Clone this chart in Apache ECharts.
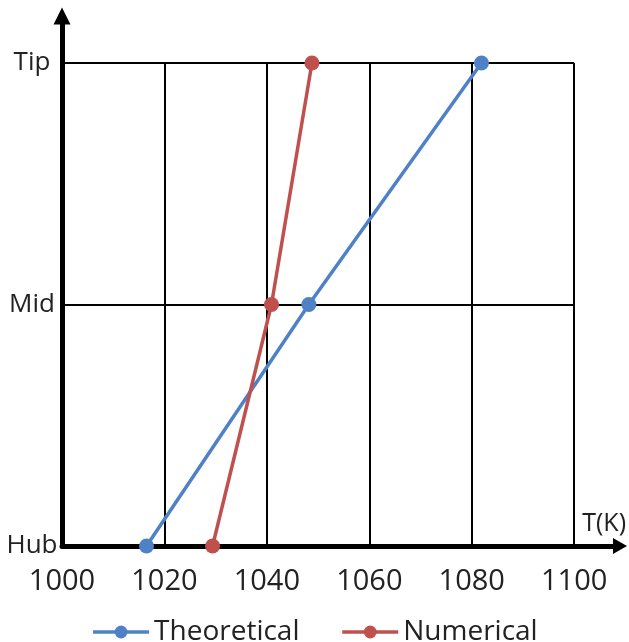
<!DOCTYPE html>
<html>
<head>
<meta charset="utf-8">
<script src="https://cdn.jsdelivr.net/npm/echarts@6/dist/echarts.min.js"></script>
<style>
  html, body { margin: 0; padding: 0; background: #fff; }
  #chart { width: 629px; height: 642px; }
</style>
</head>
<body>
<div id="chart"></div>
<script>
var positions = ['Hub', 'Mid', 'Tip'];
var theoretical = [1016.5, 1048.2, 1081.9];
var numerical = [1029.4, 1040.9, 1048.8];
var xTicks = { min: 1000, max: 1100, interval: 20 };

function pairs(vals) {
    return vals.map(function (v, i) { return [v, positions[i]]; });
}

var font = '"Open Sans", sans-serif';
var myChart = echarts.init(document.getElementById('chart'));
var option = {
    animation: false,
    grid: [
        { left: 62, right: 54, top: 63, bottom: 96 },
        // only carries the two arrowed axis lines
        { left: 62, right: 9, top: 16, bottom: 96 }
    ],
    legend: {
        left: 'center',
        top: 613,
        itemWidth: 56,
        itemHeight: 16,
        itemGap: 41,
        lineStyle: { width: 3.5 },
        textStyle: { fontFamily: font, fontSize: 28, color: '#222' },
        data: ['Theoretical', 'Numerical']
    },
    xAxis: [
        {
            type: 'value',
            gridIndex: 0,
            min: xTicks.min,
            max: xTicks.max,
            interval: xTicks.interval,
            name: 'T(K)',
            nameLocation: 'end',
            nameGap: 8,
            nameTextStyle: {
                fontFamily: font, fontSize: 25, color: '#222',
                verticalAlign: 'bottom', padding: [0, 0, 10, 0]
            },
            axisLine: { show: false },
            axisTick: { show: false },
            axisLabel: {
                fontFamily: font, fontSize: 29, color: '#222', margin: 21,
                formatter: function (v) { return String(v); }
            },
            splitLine: { lineStyle: { color: '#000', width: 2 } }
        },
        {
            type: 'value',
            gridIndex: 1,
            min: 0,
            max: 1,
            axisLine: {
                show: true,
                symbol: ['none', 'triangle'],
                symbolSize: [16, 14],
                lineStyle: { color: '#000', width: 5 }
            },
            axisTick: { show: false },
            axisLabel: { show: false },
            splitLine: { show: false }
        }
    ],
    yAxis: [
        {
            type: 'category',
            gridIndex: 0,
            data: positions,
            boundaryGap: false,
            axisLine: { show: false },
            axisTick: { show: false },
            axisLabel: {
                fontFamily: font, fontSize: 26, color: '#222',
                align: 'center', margin: 30
            },
            splitLine: { show: true, lineStyle: { color: '#000', width: 2 } }
        },
        {
            type: 'value',
            gridIndex: 1,
            min: 0,
            max: 1,
            axisLine: {
                show: true,
                symbol: ['none', 'triangle'],
                symbolSize: [17, 17],
                lineStyle: { color: '#000', width: 5 }
            },
            axisTick: { show: false },
            axisLabel: { show: false },
            splitLine: { show: false }
        }
    ],
    series: [
        {
            name: 'Theoretical',
            type: 'line',
            xAxisIndex: 0,
            yAxisIndex: 0,
            data: pairs(theoretical),
            symbol: 'circle',
            symbolSize: 15,
            clip: false,
            z: 5,
            lineStyle: { color: '#4F81C7', width: 3.5 },
            itemStyle: { color: '#4F81C7' }
        },
        {
            name: 'Numerical',
            type: 'line',
            xAxisIndex: 0,
            yAxisIndex: 0,
            data: pairs(numerical),
            symbol: 'circle',
            symbolSize: 15,
            clip: false,
            z: 5,
            lineStyle: { color: '#C0504D', width: 3.5 },
            itemStyle: { color: '#C0504D' }
        }
    ]
};
myChart.setOption(option);
</script>
</body>
</html>
